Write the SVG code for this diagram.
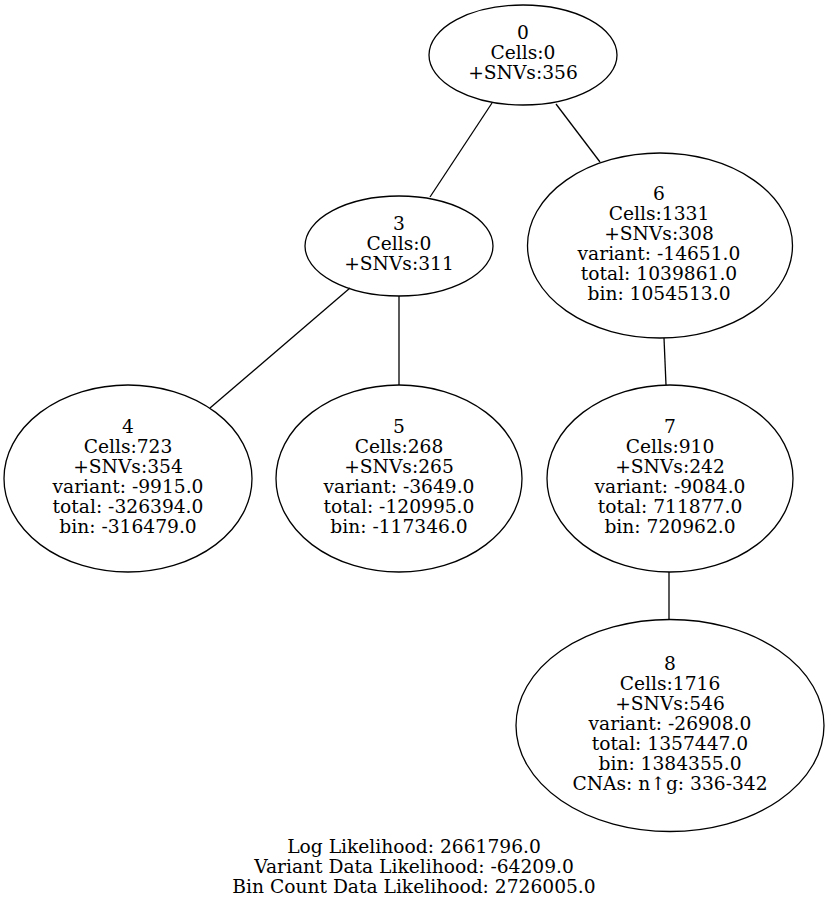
<svg xmlns="http://www.w3.org/2000/svg" width="829" height="903" viewBox="0 0 829 903">
<style>
.n ellipse{fill:none;stroke:#000;stroke-width:1.3}
text{font-family:"DejaVu Serif",serif;font-size:18.67px;fill:#000;text-anchor:middle}
#edges line{stroke:#000;stroke-width:1.3}
</style>
<rect width="829" height="903" fill="#fff"/>
<g id="edges">
<line x1="492" y1="103" x2="430" y2="197"/>
<line x1="556" y1="104" x2="600" y2="162"/>
<line x1="350" y1="288" x2="210" y2="408"/>
<line x1="399" y1="296" x2="399" y2="385"/>
<line x1="664" y1="338" x2="666" y2="385"/>
<line x1="669" y1="572" x2="669" y2="619"/>
</g>
<g id="node0" class="n">
<ellipse cx="523" cy="55" rx="94" ry="50"/>
<text x="523" y="39">0</text>
<text x="523" y="59">Cells:0</text>
<text x="523" y="79">+SNVs:356</text>
</g>
<g id="node3" class="n">
<ellipse cx="399" cy="246" rx="94" ry="50"/>
<text x="399" y="230">3</text>
<text x="399" y="250">Cells:0</text>
<text x="399" y="270">+SNVs:311</text>
</g>
<g id="node6" class="n">
<ellipse cx="660" cy="245.5" rx="132.5" ry="92.5"/>
<text x="659" y="200">6</text>
<text x="659" y="220">Cells:1331</text>
<text x="659" y="240">+SNVs:308</text>
<text x="659" y="260">variant: -14651.0</text>
<text x="659" y="280">total: 1039861.0</text>
<text x="659" y="300">bin: 1054513.0</text>
</g>
<g id="node4" class="n">
<ellipse cx="128" cy="478.5" rx="124" ry="93.5"/>
<text x="128" y="433">4</text>
<text x="128" y="453">Cells:723</text>
<text x="128" y="473">+SNVs:354</text>
<text x="128" y="493">variant: -9915.0</text>
<text x="128" y="513">total: -326394.0</text>
<text x="128" y="533">bin: -316479.0</text>
</g>
<g id="node5" class="n">
<ellipse cx="399" cy="478.5" rx="123" ry="93.5"/>
<text x="399" y="433">5</text>
<text x="399" y="453">Cells:268</text>
<text x="399" y="473">+SNVs:265</text>
<text x="399" y="493">variant: -3649.0</text>
<text x="399" y="513">total: -120995.0</text>
<text x="399" y="533">bin: -117346.0</text>
</g>
<g id="node7" class="n">
<ellipse cx="670" cy="478.5" rx="123" ry="93.5"/>
<text x="670" y="433">7</text>
<text x="670" y="453">Cells:910</text>
<text x="670" y="473">+SNVs:242</text>
<text x="670" y="493">variant: -9084.0</text>
<text x="670" y="513">total: 711877.0</text>
<text x="670" y="533">bin: 720962.0</text>
</g>
<g id="node8" class="n">
<ellipse cx="670" cy="725.5" rx="154" ry="106"/>
<text x="670" y="670">8</text>
<text x="670" y="690">Cells:1716</text>
<text x="670" y="710">+SNVs:546</text>
<text x="670" y="730">variant: -26908.0</text>
<text x="670" y="750">total: 1357447.0</text>
<text x="670" y="770">bin: 1384355.0</text>
<text x="670" y="790">CNAs: n↑g: 336-342</text>
</g>
<g id="label">
<text x="414" y="853">Log Likelihood: 2661796.0</text>
<text x="414" y="873">Variant Data Likelihood: -64209.0</text>
<text x="414" y="893">Bin Count Data Likelihood: 2726005.0</text>
</g>
</svg>
